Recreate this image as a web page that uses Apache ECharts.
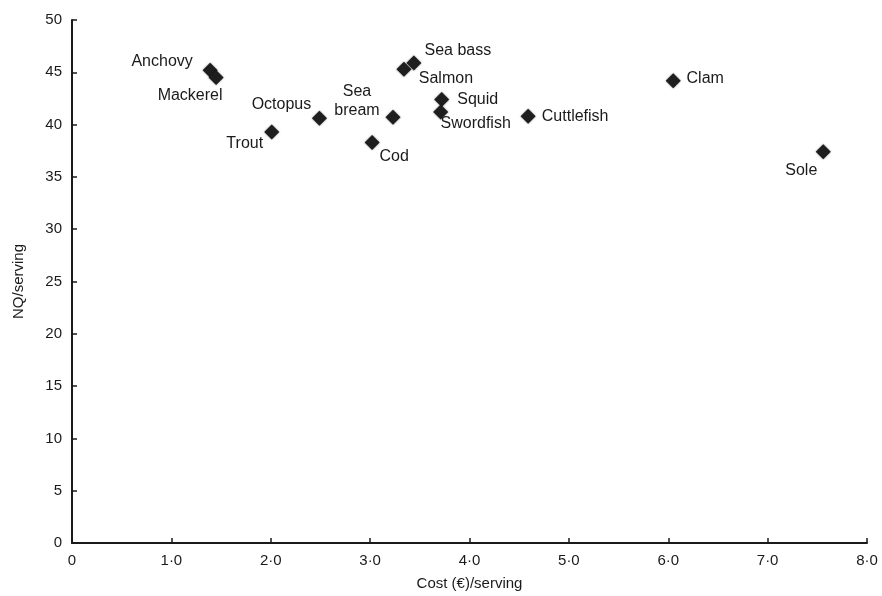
<!DOCTYPE html>
<html><head><meta charset="utf-8">
<script src="https://cdn.jsdelivr.net/npm/echarts@6/dist/echarts.min.js"></script>
<style>html,body{margin:0;padding:0;background:#fff}#c{width:882px;height:596px}</style>
</head><body><div id="c"></div>
<script>
const names = ["Anchovy","Mackerel","Octopus","Trout","Sea\nbream","Cod","Salmon","Sea bass","Squid","Swordfish","Cuttlefish","Clam","Sole"];
const cost  = [1.39, 1.45, 2.49, 2.01, 3.23, 3.02, 3.34, 3.44, 3.72, 3.71, 4.59, 6.05, 7.56];
const nq    = [45.2, 44.5, 40.6, 39.3, 40.7, 38.3, 45.3, 45.9, 42.4, 41.2, 40.8, 44.2, 37.4];
const xTicks = ["0","1·0","2·0","3·0","4·0","5·0","6·0","7·0","8·0"];

// label placement (style only): offset of label centre from marker centre, px
const labelOffset = {
  "Anchovy":[-48,-9], "Mackerel":[-26,18], "Octopus":[-38,-14], "Trout":[-27,12],
  "Sea\nbream":[-36,-16], "Cod":[22,14], "Salmon":[42,9], "Sea bass":[44,-12],
  "Squid":[36,0], "Swordfish":[35,12], "Cuttlefish":[47,0], "Clam":[32,-2], "Sole":[-22,19]
};

const font = 'Liberation Sans, Arial, sans-serif';
const data = names.map((n,i)=>({
  name:n, value:[cost[i], nq[i]],
  label:{show:true, position:'inside', offset:labelOffset[n], formatter:n, align:'center',
         color:'#1a1a1a', fontSize:16, lineHeight:19, fontFamily:font,
         textBorderWidth:0, textBorderColor:'transparent'}
}));

const chart = echarts.init(document.getElementById('c'), null, {renderer:'canvas'});
chart.setOption({
  animation:false,
  backgroundColor:'#fff',
  grid:{left:72, right:15, top:20, bottom:52, containLabel:false},
  xAxis:{type:'value', min:0, max:8, interval:1,
    name:'Cost (€)/serving', nameLocation:'middle', nameGap:33,
    nameTextStyle:{fontSize:15, color:'#1a1a1a', fontFamily:font},
    axisLine:{show:true, lineStyle:{color:'#1a1a1a', width:2}},
    axisTick:{show:true, inside:true, length:5, lineStyle:{color:'#1a1a1a', width:1.5}},
    axisLabel:{color:'#1a1a1a', fontSize:15, fontFamily:font, margin:10,
      formatter:(v)=>xTicks[Math.round(v)]},
    splitLine:{show:false}},
  yAxis:{type:'value', min:0, max:50, interval:5,
    name:'NQ/serving', nameLocation:'middle', nameGap:46,
    nameTextStyle:{fontSize:15, color:'#1a1a1a', fontFamily:font},
    axisLine:{show:true, lineStyle:{color:'#1a1a1a', width:2}},
    axisTick:{show:true, inside:true, length:5, lineStyle:{color:'#1a1a1a', width:1.5}},
    axisLabel:{color:'#1a1a1a', fontSize:15, fontFamily:font, margin:10},
    splitLine:{show:false}},
  series:[{type:'scatter', symbol:'diamond', symbolSize:15,
    itemStyle:{color:'#1e1e1e', opacity:1, shadowBlur:2, shadowColor:'rgba(0,0,0,0.5)'},
    data:data}]
});
</script></body></html>
